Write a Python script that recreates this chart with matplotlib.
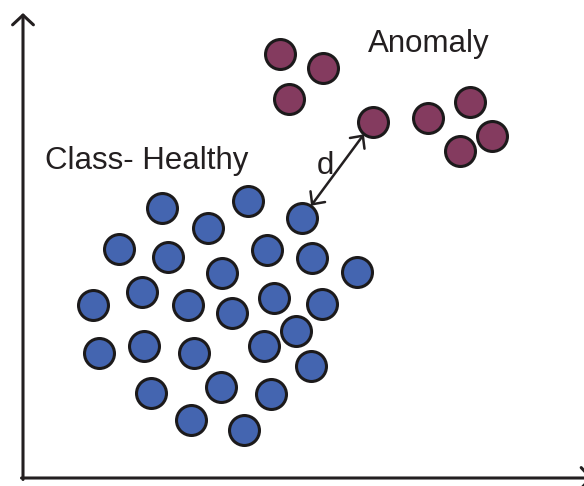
import numpy as np
import matplotlib
matplotlib.use('Agg')
import matplotlib.pyplot as plt

# Healthy class points (feature 1, feature 2)
healthy_x = [139, 185, 225, 279, 96, 145, 199, 244, 289, 334, 70, 119, 165, 209,
             251, 299, 76, 121, 171, 241, 273, 288, 128, 198, 248, 168, 221]
healthy_y = [270, 250, 277, 260, 229, 221, 205, 228, 220, 206, 173, 186, 173, 165,
             180, 174, 125, 132, 125, 132, 147, 112, 85, 91, 84, 58, 48]

# Anomaly points
anomaly_x = [257, 266, 300, 350, 405, 447, 469, 437]
anomaly_y = [424, 379, 410, 356, 360, 376, 342, 327]

# distance arrow goes from this healthy point to this anomaly point
d_from = 3
d_to = 3

blue = '#4465B0'
purple = '#843B5F'
edge = '#1c1a1b'

fig = plt.figure(figsize=(5.84, 4.86), dpi=100)
ax = fig.add_axes([0, 0, 1, 1])
ax.set_xlim(-23, 561)
ax.set_ylim(-8, 478)
ax.axis('off')

# Axes with arrow heads (x arrow tip runs just past the right edge)
ax.annotate('', xy=(0, 465), xytext=(0, -1.5), annotation_clip=False,
            arrowprops=dict(arrowstyle='->,head_length=7,head_width=7.5',
                            mutation_scale=1, lw=2.2, color='#231f20',
                            shrinkA=0, shrinkB=0))
ax.annotate('', xy=(570, 0), xytext=(-1.5, 0), annotation_clip=False,
            arrowprops=dict(arrowstyle='->,head_length=7,head_width=7.5',
                            mutation_scale=1, lw=2.2, color='#231f20',
                            shrinkA=0, shrinkB=0))

ax.scatter(healthy_x, healthy_y, s=465, c=blue, edgecolors=edge, linewidths=2.2, zorder=3)
ax.scatter(anomaly_x, anomaly_y, s=465, c=purple, edgecolors=edge, linewidths=2.2, zorder=3)

# distance d between the classes
ax.annotate('', xy=(anomaly_x[d_to], anomaly_y[d_to]),
            xytext=(healthy_x[d_from], healthy_y[d_from]),
            arrowprops=dict(arrowstyle='<->,head_length=6.8,head_width=6.5',
                            mutation_scale=1, lw=1.8, color='#231f20',
                            shrinkA=11, shrinkB=11), zorder=4)

font = ['Liberation Sans', 'DejaVu Sans']
ax.text(345, 426, 'Anomaly', fontsize=22.5, family=font, color='#231f20',
        ha='left', va='baseline')
ax.text(22, 309, 'Class- Healthy', fontsize=22.5, family=font, color='#231f20',
        ha='left', va='baseline')
ax.text(294, 304, 'd', fontsize=22.5, family=font, color='#231f20',
        ha='left', va='baseline')

plt.savefig('out.png', dpi=100)
plt.close()
